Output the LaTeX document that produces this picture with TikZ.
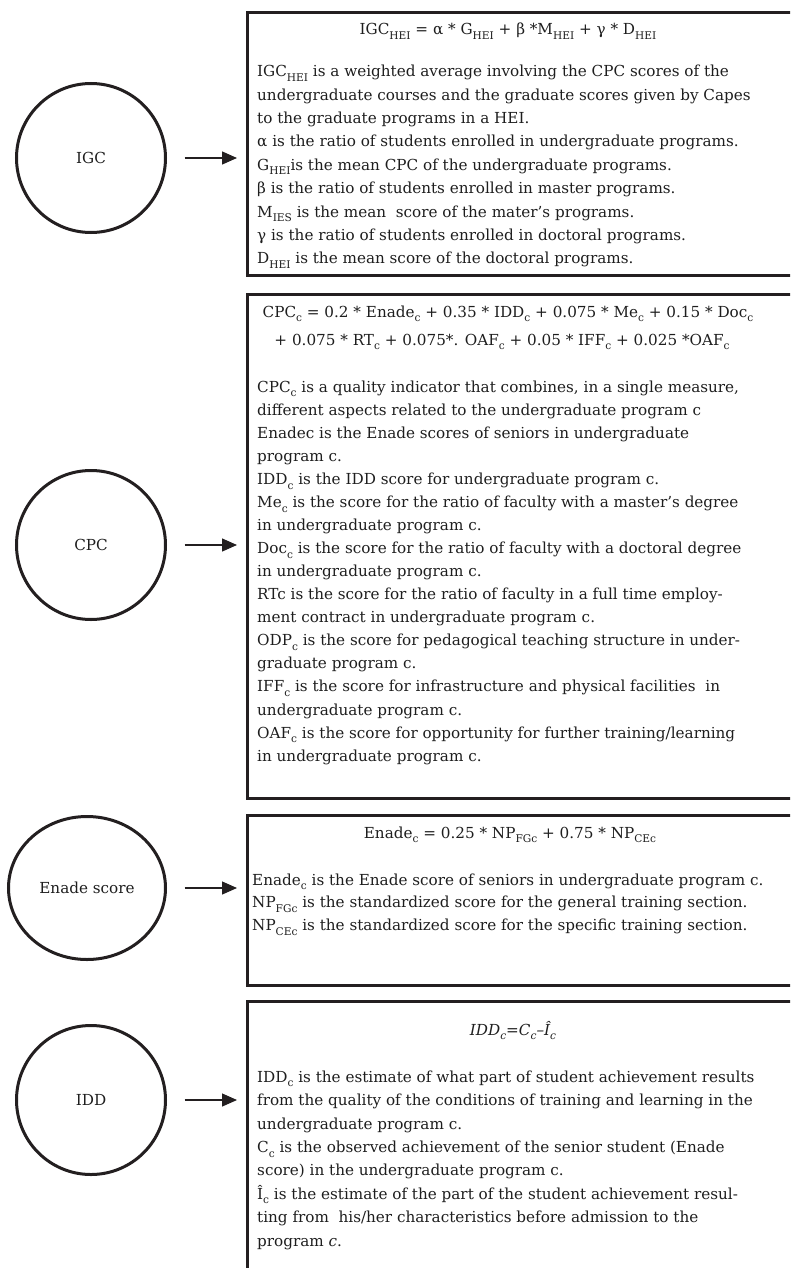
\documentclass[tikz,border=0pt]{standalone}
\usepackage{fontspec}
\setmainfont{DejaVu Serif}
\usetikzlibrary{arrows.meta,shapes.geometric}
\definecolor{ink}{RGB}{35,31,32}
\definecolor{txtc}{RGB}{30,30,30}
\newcommand\sbs[1]{\raisebox{-4.6pt}{\fontsize{10.6}{12}\selectfont #1}}
\tikzset{
  framebox/.style={draw=ink, line width=3pt, anchor=north west, minimum width=560pt, inner sep=0pt},
  circ/.style={circle, draw=ink, line width=3pt, minimum size=149pt, inner sep=0pt, text=txtc, font=\fontsize{15.2}{17}\selectfont},
  oval/.style={ellipse, draw=ink, line width=3pt, minimum width=157pt, minimum height=143pt, inner sep=0pt, text=txtc, font=\fontsize{15.2}{17}\selectfont},
  arr/.style={draw=ink, line width=1.3pt, -{Triangle[length=15pt,width=13pt]}, shorten <=17.5pt, shorten >=8.7pt},
  formula/.style={anchor=base, inner sep=0pt, text=txtc, font=\fontsize{15.2}{17}\selectfont},
  para/.style={anchor=north west, inner sep=0pt, align=left, text=txtc, font=\fontsize{15.2}{#1}\selectfont},
  para/.default=23.4
}
\begin{document}
\begin{tikzpicture}[x=1pt,y=-1pt]
\useasboundingbox (0,0) rectangle (790,1268);
\clip (0,0) rectangle (790,1268);

% boxes
\node[framebox, minimum height=262.7pt] (b1) at (245.7,11) {};
\node[framebox, minimum height=503.7pt] (b2) at (245.7,293.3) {};
\node[framebox, minimum height=170pt] (b3) at (245.7,814) {};
\node[framebox, minimum height=320pt] (b4) at (245.7,1000.3) {};

% circles
\node[circ] (igc) at (91,158) {IGC};
\node[circ] (cpc) at (91,545) {CPC};
\node[oval] (enade) at (87,888) {Enade score};
\node[circ] (idd) at (91,1100) {IDD};

% arrows
\draw[arr] (igc.east) -- (igc.east -| b1.west);
\draw[arr] (cpc.east) -- (cpc.east -| b2.west);
\draw[arr] (enade.east) -- (enade.east -| b3.west);
\draw[arr] (idd.east) -- (idd.east -| b4.west);

% box 1
\node[formula] (f1) at (508,35) {IGC\sbs{HEI} = α * G\sbs{HEI} + β *M\sbs{HEI} + γ * D\sbs{HEI}};
\node[para] (t1) at (257,{76.5-0.7*23.4}) {\strut IGC\sbs{HEI} is a weighted average involving the CPC scores of the\\
undergraduate courses and the graduate scores given by Capes\\
to the graduate programs in a HEI.\\
α is the ratio of students enrolled in undergraduate programs.\\
G\sbs{HEI}is the mean CPC of the undergraduate programs.\\
β is the ratio of students enrolled in master programs.\\
M\sbs{IES} is the mean\ \ score of the mater’s programs.\\
γ is the ratio of students enrolled in doctoral programs.\\
D\sbs{HEI} is the mean score of the doctoral programs.};

% box 2
\node[formula] (f2a) at (508,317) {CPC\sbs{c} = 0.2 * Enade\sbs{c} + 0.35 * IDD\sbs{c} + 0.075 * Me\sbs{c} + 0.15 * Doc\sbs{c}};
\node[formula] (f2b) at (502,345) {+ 0.075 * RT\sbs{c} + 0.075*. OAF\sbs{c} + 0.05 * IFF\sbs{c} + 0.025 *OAF\sbs{c}};
\node[para=23.06] (t2) at (257,{392-0.7*23.06}) {\strut CPC\sbs{c} is a quality indicator that combines, in a single measure,\\
different aspects related to the undergraduate program c\\
Enadec is the Enade scores of seniors in undergraduate\\
program c.\\
IDD\sbs{c} is the IDD score for undergraduate program c.\\
Me\sbs{c} is the score for the ratio of faculty with a master’s degree\\
in undergraduate program c.\\
Doc\sbs{c} is the score for the ratio of faculty with a doctoral degree\\
in undergraduate program c.\\
RTc is the score for the ratio of faculty in a full time employ-\\
ment contract in undergraduate program c.\\
ODP\sbs{c} is the score for pedagogical teaching structure in under-\\
graduate program c.\\
IFF\sbs{c} is the score for infrastructure and physical facilities\ \ in\\
undergraduate program c.\\
OAF\sbs{c} is the score for opportunity for further training/learning\\
in undergraduate program c.};

% box 3
\node[formula] (f3) at (510,838) {Enade\sbs{c} = 0.25 * NP\sbs{FGc} + 0.75 * NP\sbs{CEc}};
\node[para=22.7] (t3) at (252,{885-0.7*22.7}) {\strut Enade\sbs{c} is the Enade score of seniors in undergraduate program c.\\
NP\sbs{FGc} is the standardized score for the general training section.\\
NP\sbs{CEc} is the standardized score for the specific training section.};

% box 4
\node[formula] (f4) at (513,1035) {\itshape IDD\sbs{c}=C\sbs{c}–Î\sbs{c}};
\node[para] (t4) at (257,{1082-0.7*23.4}) {\strut IDD\sbs{c} is the estimate of what part of student achievement results\\
from the quality of the conditions of training and learning in the\\
undergraduate program c.\\
C\sbs{c} is the observed achievement of the senior student (Enade\\
score) in the undergraduate program c.\\
Î\sbs{c} is the estimate of the part of the student achievement resul-\\
ting from\ \ his/her characteristics before admission to the\\
program \textit{c}.};
\end{tikzpicture}
\end{document}
